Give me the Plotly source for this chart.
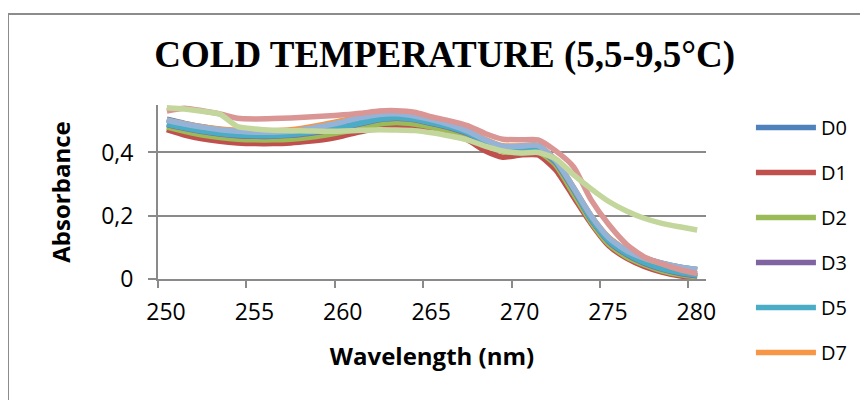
import plotly.graph_objects as go

wavelengths = list(range(250, 281))
tick_labels = [250, 255, 260, 265, 270, 275, 280]
y_ticks = [0, 0.2, 0.4]

D0 = [0.505, 0.492, 0.481, 0.473, 0.468, 0.465, 0.465, 0.468, 0.475, 0.484, 0.495, 0.507, 0.517, 0.519, 0.513, 0.501, 0.486, 0.466, 0.438, 0.418, 0.418, 0.420, 0.373, 0.288, 0.198, 0.130, 0.090, 0.066, 0.050, 0.038, 0.030]
D1 = [0.472, 0.455, 0.443, 0.435, 0.430, 0.428, 0.428, 0.430, 0.435, 0.442, 0.453, 0.466, 0.478, 0.485, 0.480, 0.470, 0.458, 0.440, 0.405, 0.385, 0.392, 0.392, 0.345, 0.260, 0.175, 0.105, 0.066, 0.040, 0.022, 0.010, 0.004]
D2 = [0.480, 0.467, 0.455, 0.447, 0.442, 0.440, 0.440, 0.442, 0.447, 0.455, 0.465, 0.478, 0.490, 0.495, 0.490, 0.480, 0.468, 0.450, 0.425, 0.403, 0.400, 0.403, 0.360, 0.270, 0.180, 0.110, 0.070, 0.045, 0.026, 0.014, 0.007]
D3 = [0.488, 0.476, 0.466, 0.458, 0.453, 0.451, 0.451, 0.454, 0.460, 0.468, 0.478, 0.491, 0.503, 0.508, 0.503, 0.491, 0.478, 0.460, 0.433, 0.410, 0.408, 0.410, 0.368, 0.283, 0.188, 0.118, 0.078, 0.050, 0.031, 0.018, 0.010]
D5 = [0.490, 0.478, 0.468, 0.460, 0.455, 0.453, 0.453, 0.456, 0.462, 0.470, 0.480, 0.493, 0.505, 0.510, 0.505, 0.493, 0.480, 0.462, 0.435, 0.412, 0.410, 0.412, 0.370, 0.285, 0.190, 0.120, 0.080, 0.052, 0.033, 0.020, 0.012]
D7 = [0.503, 0.491, 0.481, 0.474, 0.470, 0.468, 0.469, 0.472, 0.480, 0.490, 0.502, 0.515, 0.525, 0.527, 0.520, 0.508, 0.492, 0.471, 0.442, 0.421, 0.421, 0.423, 0.376, 0.290, 0.200, 0.132, 0.091, 0.066, 0.049, 0.037, 0.029]
D9 = [0.502, 0.490, 0.480, 0.472, 0.467, 0.464, 0.464, 0.467, 0.475, 0.485, 0.497, 0.510, 0.520, 0.522, 0.515, 0.503, 0.488, 0.468, 0.440, 0.420, 0.420, 0.422, 0.375, 0.290, 0.200, 0.130, 0.090, 0.066, 0.050, 0.038, 0.030]
D11 = [0.531, 0.540, 0.532, 0.522, 0.508, 0.506, 0.507, 0.509, 0.512, 0.515, 0.519, 0.524, 0.531, 0.532, 0.527, 0.512, 0.500, 0.485, 0.460, 0.442, 0.440, 0.440, 0.405, 0.355, 0.250, 0.172, 0.110, 0.070, 0.048, 0.030, 0.017]
D14 = [0.541, 0.537, 0.530, 0.521, 0.482, 0.474, 0.470, 0.469, 0.468, 0.467, 0.468, 0.470, 0.472, 0.471, 0.469, 0.462, 0.452, 0.440, 0.420, 0.405, 0.398, 0.400, 0.380, 0.330, 0.285, 0.245, 0.215, 0.192, 0.176, 0.165, 0.155]

series = [
    ("D0", D0, "#4F81BD", True),
    ("D1", D1, "#C0504D", True),
    ("D2", D2, "#9BBB59", True),
    ("D3", D3, "#8064A2", True),
    ("D5", D5, "#4BACC6", True),
    ("D7", D7, "#F79646", True),
    ("D9", D9, "#95B3D7", False),
    ("D11", D11, "#D99694", False),
    ("D14", D14, "#C3D69B", False),
]

fig = go.Figure()
for name, vals, color, show in series:
    fig.add_trace(go.Scatter(
        x=wavelengths, y=vals, name=name, mode="lines",
        line=dict(color=color, width=5.5, shape="spline", smoothing=0.6),
        showlegend=show, legendgroup=name,
    ))

grid = "#8A8A8A"
fig.update_layout(
    width=868, height=400,
    margin=dict(l=150, r=170, t=97, b=129, autoexpand=False),
    paper_bgcolor="white", plot_bgcolor="white",
    separators=", ",
    title=dict(text="<b>COLD TEMPERATURE (5,5-9,5°C)</b>",
               font=dict(family="Liberation Serif", size=37, color="black"),
               x=0.503, xref="container", xanchor="center",
               y=1 - 46 / 400, yref="container", yanchor="middle"),
    legend=dict(x=1.082, y=0.983, xanchor="left", yanchor="top",
                font=dict(family="Open Sans", size=20, color="black"),
                itemwidth=60, tracegroupgap=16, traceorder="grouped",
                maxheight=400,
                bgcolor="rgba(0,0,0,0)"),
    showlegend=True,
    shapes=[dict(type="rect", xref="paper", yref="paper",
                 x0=-0.2737, x1=1.35, y0=-0.8, y1=1.523,
                 line=dict(color="#8C8C8C", width=2), layer="below")],
)

fig.update_xaxes(
    range=[249.5, 280.5],
    automargin=False,
    tickmode="array",
    tickvals=[t - 0.5 for t in tick_labels],
    ticktext=[str(t) for t in tick_labels],
    ticklabelshift=8,
    ticks="outside", ticklen=7, tickwidth=2, tickcolor=grid,
    showline=True, linecolor=grid, linewidth=2,
    showgrid=False, zeroline=False,
    tickfont=dict(family="Open Sans", size=23, color="black"),
    ticklabelstandoff=4,
    title=dict(text="<b>Wavelength (nm)</b>",
               font=dict(family="Open Sans", size=24, color="black"),
               standoff=23),
)
fig.update_yaxes(
    range=[0, 0.55],
    automargin=False,
    tickmode="array", tickvals=y_ticks,
    ticktext=["0", "0,2", "0,4"],
    ticks="outside", ticklen=8, tickwidth=2, tickcolor=grid,
    showline=True, linecolor=grid, linewidth=2,
    showgrid=True, gridcolor=grid, gridwidth=2,
    zeroline=False,
    tickfont=dict(family="Open Sans", size=23, color="black"),
    ticklabelstandoff=10,
    title=dict(text="<b>Absorbance</b>",
               font=dict(family="Open Sans", size=24, color="black"),
               standoff=24),
)

fig.write_html("out.html")
